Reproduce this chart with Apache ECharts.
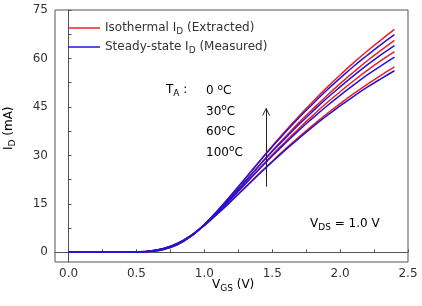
<!DOCTYPE html>
<html>
<head>
<meta charset="utf-8">
<script src="https://cdn.jsdelivr.net/npm/echarts@6/dist/echarts.min.js"></script>
<style>
  html, body { margin: 0; padding: 0; background: #fff; }
  #main { width: 422px; height: 306px; }
</style>
</head>
<body>
<div id="main"></div>
<script>
// V_GS sweep (V)
const vgs = [0, 0.1, 0.2, 0.3, 0.4, 0.5, 0.6, 0.7, 0.8, 0.9, 1.0, 1.1, 1.2,
             1.3, 1.4, 1.5, 1.6, 1.7, 1.8, 1.9, 2.0, 2.1, 2.2, 2.3, 2.4];

// isothermal I_D (extracted), mA
const iso0   = [0, 0, 0, 0, 0.01, 0.05, 0.25, 0.9, 2.3, 4.9, 8.6, 13.0, 17.8, 22.8, 27.9, 32.9, 37.7, 42.3, 46.7, 50.9, 54.9, 58.7, 62.3, 65.7, 69.0];
const iso30  = [0, 0, 0, 0, 0.01, 0.07, 0.3, 1.0, 2.45, 5.0, 8.5, 12.7, 17.2, 21.9, 26.7, 31.4, 35.9, 40.3, 44.4, 48.4, 52.2, 55.8, 59.3, 62.5, 65.6];
const iso60  = [0, 0, 0, 0, 0.02, 0.09, 0.35, 1.1, 2.6, 5.1, 8.4, 12.4, 16.7, 21.2, 25.7, 30.2, 34.4, 38.5, 42.4, 46.2, 49.7, 53.1, 56.3, 59.3, 62.1];
const iso100 = [0, 0, 0, 0, 0.02, 0.12, 0.42, 1.2, 2.75, 5.2, 8.3, 12.0, 16.0, 20.1, 24.2, 28.2, 32.1, 35.8, 39.4, 42.8, 46.0, 49.1, 52.0, 54.8, 57.4];

// steady-state I_D (measured), mA
const ss0   = [0, 0, 0, 0, 0.01, 0.05, 0.25, 0.9, 2.3, 4.9, 8.6, 13.0, 17.8, 22.8, 27.8, 32.7, 37.3, 41.8, 46.0, 50.1, 53.9, 57.6, 61.0, 64.3, 67.4];
const ss30  = [0, 0, 0, 0, 0.01, 0.07, 0.3, 1.0, 2.45, 5.0, 8.5, 12.7, 17.2, 21.9, 26.6, 31.2, 35.5, 39.7, 43.7, 47.6, 51.2, 54.7, 58.0, 61.1, 64.0];
const ss60  = [0, 0, 0, 0, 0.02, 0.09, 0.35, 1.1, 2.6, 5.1, 8.4, 12.4, 16.7, 21.1, 25.5, 29.8, 33.9, 37.9, 41.6, 45.2, 48.6, 51.8, 54.9, 57.7, 60.4];
const ss100 = [0, 0, 0, 0, 0.02, 0.12, 0.42, 1.2, 2.75, 5.2, 8.3, 12.0, 16.0, 20.0, 24.1, 28.0, 31.8, 35.4, 38.9, 42.2, 45.3, 48.3, 51.1, 53.7, 56.2];

const xTicks = [0, 0.25, 0.5, 0.75, 1.0, 1.25, 1.5, 1.75, 2.0, 2.25, 2.5];
const xLabels = [0, 0.5, 1.0, 1.5, 2.0, 2.5];
const yTicks = [0, 7.5, 15, 22.5, 30, 37.5, 45, 52.5, 60, 67.5, 75];
const yLabels = [0, 15, 30, 45, 60, 75];

const tempLabels = ['0 ', '30', '60', '100'];

const isoName = 'Isothermal';
const ssName = 'Steady-state';
const red = '#f21c24';
const blue = '#2214d6';
const ink = '#333';
const font = 'DejaVu Sans';
const fs = 12;

function pairs(ys) {
    return vgs.map((x, i) => [x, ys[i]]);
}

function curve(name, ys, color) {
    return {
        name: name,
        type: 'line',
        data: pairs(ys),
        smooth: 0.4,
        symbol: 'none',
        lineStyle: { color: color, width: 1.5 },
        itemStyle: { color: color },
        z: color === blue ? 3 : 2
    };
}

const series = [
    curve(isoName, iso0, red),
    curve(ssName, ss0, blue),
    curve(isoName, iso30, red),
    curve(ssName, ss30, blue),
    curve(isoName, iso60, red),
    curve(ssName, ss60, blue),
    curve(isoName, iso100, red),
    curve(ssName, ss100, blue)
];

// arrow shaft showing rising temperature
const arrowFrom = [1.455, 20.3];
const arrowTo = [1.455, 44.5];
series.push({
    type: 'line',
    data: [],
    markLine: {
        silent: true,
        symbol: ['none', 'none'],
        label: { show: false },
        lineStyle: { color: '#222', width: 1, type: 'solid' },
        data: [[{ coord: arrowFrom }, { coord: arrowTo }]]
    }
});

const rich = {
    t: { fontFamily: font, fontSize: fs, color: ink },
    sub: { fontFamily: font, fontSize: 9, color: ink, padding: [7, 0, 0, 0] },
    sup: { fontFamily: font, fontSize: 9, color: ink, padding: [0, 0, 7, 0] }
};

const chart = echarts.init(document.getElementById('main'));
chart.setOption({
    animation: false,
    grid: {
        left: 55, right: 14, top: 10, bottom: 44,
        show: true, borderColor: '#555', borderWidth: 1
    },
    legend: {
        orient: 'vertical',
        left: 63, top: 17,
        icon: 'rect',
        itemWidth: 32, itemHeight: 1.5, itemGap: 5,
        data: [isoName, ssName],
        formatter: function (name) {
            return name === isoName
                ? '{t|Isothermal I}{sub|D}{t| (Extracted)}'
                : '{t|Steady-state I}{sub|D}{t| (Measured)}';
        },
        textStyle: { rich: rich }
    },
    xAxis: {
        type: 'value',
        min: -0.1, max: 2.5,
        axisLine: { show: true, lineStyle: { color: '#555' } },
        axisTick: { show: true, inside: true, length: 3, customValues: xTicks, lineStyle: { color: '#555' } },
        axisLabel: {
            customValues: xLabels, margin: 6,
            fontFamily: font, fontSize: fs, color: ink,
            formatter: v => v.toFixed(1)
        },
        splitLine: { show: false }
    },
    yAxis: {
        type: 'value',
        min: -3, max: 75,
        axisLine: { show: true, lineStyle: { color: '#555' } },
        axisTick: { show: true, inside: true, length: 3, customValues: yTicks, lineStyle: { color: '#555' } },
        axisLabel: {
            customValues: yLabels, margin: 7,
            fontFamily: font, fontSize: fs, color: ink
        },
        splitLine: { show: false }
    },
    graphic: [
        {
            id: 'xname', type: 'text', left: 212, top: 279,
            style: { text: '{t|V}{sub|GS}{t| (V)}', rich: rich }
        },
        {
            id: 'yname', type: 'text', x: 1, y: 150, rotation: Math.PI / 2,
            style: { text: '{t|I}{sub|D}{t| (mA)}', rich: rich }
        },
        {
            id: 'ta', type: 'text', left: 166, top: 84,
            style: { text: '{t|T}{sub|A}{t| :}', rich: rich }
        },
        {
            id: 'temps', type: 'text', left: 206, top: 83,
            style: {
                text: tempLabels.map(s => '{t|' + s + '}{sup|o}{t|C}').join('\n'),
                rich: {
                    t: { fontFamily: font, fontSize: fs, color: ink, lineHeight: 20.5 },
                    sup: { fontFamily: font, fontSize: 9, color: ink, padding: [0, 0, 7, 0], lineHeight: 20.5 }
                }
            }
        },
        {
            id: 'vds', type: 'text', left: 310, top: 218,
            style: { text: '{t|V}{sub|DS}{t| = 1.0 V}', rich: rich }
        }
    ],
    series: series
});

// open arrow head at the top of the shaft
const tip = chart.convertToPixel({ gridIndex: 0 }, arrowTo);
chart.setOption({
    graphic: [{
        id: 'arrowHead',
        type: 'polyline',
        shape: { points: [[tip[0] - 3.5, tip[1] + 7], tip, [tip[0] + 3.5, tip[1] + 7]] },
        style: { stroke: '#222', lineWidth: 1, fill: null }
    }]
});
</script>
</body>
</html>
